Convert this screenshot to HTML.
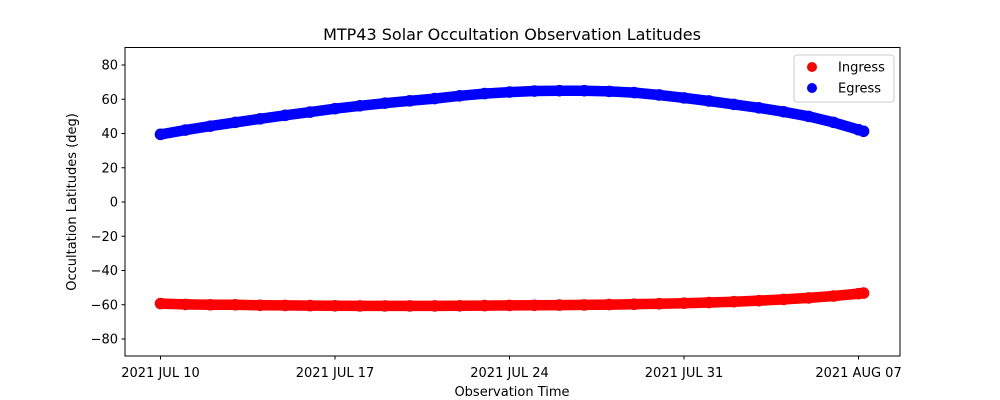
<!DOCTYPE html>
<html><head><meta charset="utf-8">
<style>
body{margin:0;background:#fff;}
svg{display:block;font-family:"DejaVu Sans","Liberation Sans",sans-serif;}
</style></head>
<body>
<svg id="chart" width="1000" height="400">
<rect width="1000" height="400" fill="#fff"/>
<text x="512" y="40" text-anchor="middle" font-size="16">MTP43 Solar Occultation Observation Latitudes</text>
<text x="512" y="396" text-anchor="middle" font-size="13">Observation Time</text>
<text transform="translate(76,202) rotate(-90)" text-anchor="middle" font-size="13">Occultation Latitudes (deg)</text>
<g id="marks"></g>
<g id="axes"></g>
<rect x="125" y="47.5" width="775" height="308.5" fill="none" stroke="#000" stroke-width="1"/>
<g>
<rect x="794" y="55" width="100" height="47" rx="3" fill="#fff" fill-opacity="0.8" stroke="#ccc"/>
<g><circle cx="812" cy="67" r="5" fill="#f00"/><text x="838" y="71.5" font-size="13">Ingress</text></g>
<g><circle cx="812" cy="88" r="5" fill="#00f"/><text x="838" y="92.5" font-size="13">Egress</text></g>
</g>
</svg>
<script>
const days = [0,1,2,3,4,5,6,7,8,9,10,11,12,13,14,15,16,17,18,19,20,21,22,23,24,25,26,27,28,28.2];
const ingress = [-59.3,-59.8,-60,-60,-60.3,-60.4,-60.5,-60.6,-60.7,-60.7,-60.7,-60.7,-60.6,-60.5,-60.4,-60.3,-60.2,-60.1,-59.9,-59.7,-59.4,-59.1,-58.7,-58.2,-57.6,-56.9,-56,-54.9,-53.5,-53.2];
const egress = [39.5,42,44.3,46.5,48.6,50.6,52.5,54.5,56.2,57.7,59.1,60.4,62,63.3,64.2,64.8,65,65,64.6,63.9,62.5,60.8,59,57,55,52.7,50,46.5,42.2,41.3];
const yTicks = [-80,-60,-40,-20,0,20,40,60,80];
const xTickDays = [0,7,14,21,28];
const xTickLabels = ["2021 JUL 10","2021 JUL 17","2021 JUL 24","2021 JUL 31","2021 AUG 07"];

const NS="http://www.w3.org/2000/svg";
function xScale(d){return 160.5+d*24.93;}
function yScale(v){return 202-v*1.7125;}
const marks=document.getElementById('marks');
const axes=document.getElementById('axes');
function mk(tag,attrs,parent){const e=document.createElementNS(NS,tag);for(const k in attrs)e.setAttribute(k,attrs[k]);parent.appendChild(e);return e;}

function series(vals,color,name){
  const g=mk('g',{},marks);
  
  
  const pts=days.map((d,i)=>xScale(d).toFixed(1)+','+yScale(vals[i]).toFixed(1)).join(' ');
  const pl=mk('polyline',{points:pts,fill:'none',stroke:color,'stroke-width':10.5,'stroke-linecap':'round','stroke-linejoin':'round'},g);
  
  
  days.forEach((d,i)=>{
    const c=mk('circle',{cx:xScale(d),cy:yScale(vals[i]),r:5.8,fill:color},g);
    
    
  });
}
series(ingress,'#f00','ingress');
series(egress,'#00f','egress');

yTicks.forEach(t=>{
  const y=yScale(t);
  const l=mk('line',{x1:121.5,x2:125,y1:y,y2:y,stroke:'#000'},axes);
  
  
  const tx=mk('text',{x:118,y:y+4.5,'text-anchor':'end','font-size':13},axes);
  
  
  tx.textContent=(t<0?'\u2212'+(-t):String(t));
});
xTickDays.forEach((d,i)=>{
  const x=xScale(d);
  const l=mk('line',{x1:x,x2:x,y1:356,y2:359.5,stroke:'#000'},axes);
  
  
  const tx=mk('text',{x:x,y:377,'text-anchor':'middle','font-size':13},axes);
  
  
  tx.textContent=xTickLabels[i];
});
</script>
</body></html>
